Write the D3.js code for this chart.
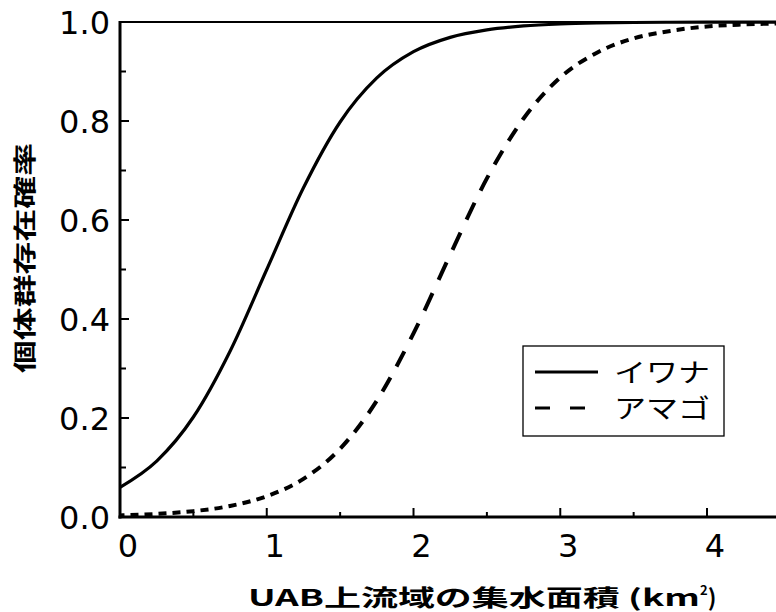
<!DOCTYPE html>
<html><head><meta charset="utf-8">
<script src="https://cdn.jsdelivr.net/npm/d3@7"></script>
<style>
html,body{margin:0;padding:0;background:#fff;}
svg{display:block;}
</style></head>
<body>
<svg id="chart" width="776" height="612"></svg>
<script>
// ---- data ----
const areaKm2 = [0, 0.25, 0.5, 0.75, 1.0, 1.25, 1.5, 1.75, 2.0, 2.25, 2.5, 2.75, 3.0, 3.25, 3.5, 3.75, 4.0, 4.25, 4.47];
const iwana   = [0.060, 0.113, 0.202, 0.335, 0.500, 0.665, 0.798, 0.887, 0.940, 0.969, 0.984, 0.992, 0.996, 0.998, 0.999, 0.9995, 0.9997, 0.9998, 0.9999];
const amago   = [0.0032, 0.0062, 0.0118, 0.0223, 0.042, 0.077, 0.138, 0.235, 0.371, 0.530, 0.684, 0.805, 0.888, 0.938, 0.967, 0.982, 0.991, 0.995, 0.997];
const seriesNames = ["イワナ", "アマゴ"];
const xTicks = [0, 1, 2, 3, 4];
const xMinorTicks = [0.5, 1.5, 2.5, 3.5];
const yTicks = [0.0, 0.2, 0.4, 0.6, 0.8, 1.0];
const yMinorTicks = [0.1, 0.3, 0.5, 0.7, 0.9];
const xTitleMain = "UAB上流域の集水面積 (km";
const xTitleSup = "2";
const xTitleEnd = ")";
const yTitle = "個体群存在確率";

// ---- layout ----
const svg = d3.select("#chart");
const pL = 120, pR = 776, pT = 22, pB = 517;
const x = d3.scaleLinear().domain([0, 4.47]).range([pL, pR]);
const y = d3.scaleLinear().domain([0, 1]).range([pB, pT]);
const numFont = "'DejaVu Sans', sans-serif";
const jpFont = "'Noto Sans CJK JP', sans-serif";

// curves
const line = d3.line().x(d => x(d[0])).y(d => y(d[1])).curve(d3.curveMonotoneX);
const g = svg.append("g");

g.append("path")
  .datum(areaKm2.map((a, i) => [a, iwana[i]]))
  .attr("d", line).attr("fill", "none").attr("stroke", "#000")
  .attr("stroke-width", 3.2).attr("stroke-linejoin", "round");

const dashPath = g.append("path")
  .datum(areaKm2.map((a, i) => [a, amago[i]]))
  .attr("d", line).attr("fill", "none").attr("stroke", "#000")
  .attr("stroke-width", 4);

// dashes spaced evenly along x (as in the reference)
(function () {
  const node = dashPath.node();
  const L = node.getTotalLength();
  const P = 14, D = 8, origin = pL + 10.5;
  const x0 = node.getPointAtLength(0).x, x1 = node.getPointAtLength(L).x;
  function lenAt(xt) {
    let lo = 0, hi = L;
    for (let i = 0; i < 40; i++) {
      const m = (lo + hi) / 2;
      if (node.getPointAtLength(m).x < xt) lo = m; else hi = m;
    }
    return (lo + hi) / 2;
  }
  const bx = [];
  for (let k = Math.floor((x0 - origin) / P) - 1; origin + k * P < x1 + P; k++) {
    const s = origin + k * P, e = s + D;
    if (s > x0 && s < x1) bx.push(s);
    if (e > x0 && e < x1) bx.push(e);
  }
  const ph = ((x0 - origin) % P + P) % P;
  const inDash = ph < D;
  const lens = bx.map(lenAt);
  const arr = [];
  if (!inDash) arr.push(0);
  let prev = 0;
  lens.forEach(l => { arr.push(Math.max(0, l - prev)); prev = l; });
  arr.push(L - prev + 50);
  if (arr.length % 2 === 1) arr.push(50);
  dashPath.attr("stroke-dasharray", arr.map(v => v.toFixed(2)).join(","));
})();

// ---- axes frame ----
const ax = svg.append("g").attr("stroke", "#000");
ax.append("line").attr("x1", pL).attr("x2", pR).attr("y1", pT).attr("y2", pT).attr("stroke-width", 2);
ax.append("line").attr("x1", pL).attr("x2", pL).attr("y1", pT - 1).attr("y2", pB + 1.5).attr("stroke-width", 3);
ax.append("line").attr("x1", pL - 1.5).attr("x2", pR).attr("y1", pB).attr("y2", pB).attr("stroke-width", 3);

// y ticks (inward)
ax.selectAll(".ymaj").data(yTicks.filter(v => v > 0 && v < 1)).enter().append("line")
  .attr("x1", pL).attr("x2", pL + 9).attr("y1", d => y(d)).attr("y2", d => y(d)).attr("stroke-width", 2);
ax.selectAll(".ymin").data(yMinorTicks).enter().append("line")
  .attr("x1", pL).attr("x2", pL + 6).attr("y1", d => y(d)).attr("y2", d => y(d)).attr("stroke-width", 2);
// x ticks (inward)
ax.selectAll(".xmaj").data(xTicks.filter(v => v > 0)).enter().append("line")
  .attr("x1", d => x(d)).attr("x2", d => x(d)).attr("y1", pB).attr("y2", pB - 9).attr("stroke-width", 2);
ax.selectAll(".xmin").data(xMinorTicks).enter().append("line")
  .attr("x1", d => x(d)).attr("x2", d => x(d)).attr("y1", pB).attr("y2", pB - 5).attr("stroke-width", 2);

// tick labels
svg.append("g").selectAll("text").data(yTicks).enter().append("text")
  .attr("x", 110).attr("y", d => y(d) + 11.5).attr("text-anchor", "end")
  .attr("font-family", numFont).attr("font-size", 32).attr("fill", "#000")
  .text(d => d.toFixed(1));
svg.append("g").selectAll("text").data(xTicks).enter().append("text")
  .attr("x", d => x(d) + 8).attr("y", 557).attr("text-anchor", "middle")
  .attr("font-family", numFont).attr("font-size", 32).attr("fill", "#000")
  .text(d => d);

// axis titles
const xt = svg.append("text").attr("x", 248).attr("y", 606)
  .attr("font-family", jpFont).attr("font-weight", "bold").attr("font-size", 23)
  .attr("fill", "#000");
xt.append("tspan").attr("textLength", 452).attr("lengthAdjust", "spacingAndGlyphs").text(xTitleMain);
xt.append("tspan").attr("font-size", 13).attr("dy", -11).text(xTitleSup);
xt.append("tspan").attr("dy", 11).text(xTitleEnd);

svg.append("text").attr("transform", "translate(33,373) rotate(-90)")
  .attr("font-family", jpFont).attr("font-weight", "bold").attr("font-size", 23)
  .attr("textLength", 230).attr("lengthAdjust", "spacingAndGlyphs").attr("fill", "#000")
  .text(yTitle);

// legend
const lg = svg.append("g");
lg.append("rect").attr("x", 523).attr("y", 346).attr("width", 201).attr("height", 90)
  .attr("fill", "#fff").attr("stroke", "#000").attr("stroke-width", 1.3);
lg.append("line").attr("x1", 535).attr("x2", 598).attr("y1", 372).attr("y2", 372)
  .attr("stroke", "#000").attr("stroke-width", 3);
lg.append("line").attr("x1", 535).attr("x2", 586).attr("y1", 408).attr("y2", 408)
  .attr("stroke", "#000").attr("stroke-width", 3).attr("stroke-dasharray", "15,20");
lg.selectAll("text").data(seriesNames).enter().append("text")
  .attr("x", 614).attr("y", (d, i) => 382 + i * 36)
  .attr("font-family", jpFont).attr("font-size", 26)
  .attr("textLength", 96).attr("lengthAdjust", "spacingAndGlyphs").attr("fill", "#000")
  .text(d => d);
</script>
</body></html>
